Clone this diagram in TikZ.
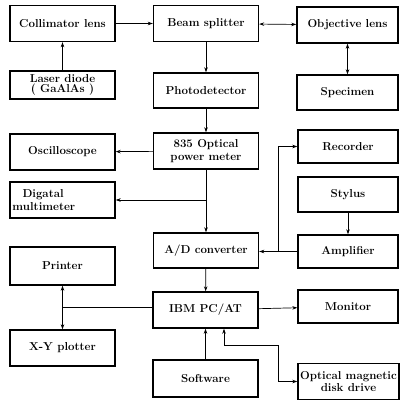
\documentclass[tikz,border=0pt]{standalone}
\usetikzlibrary{arrows.meta,calc}
\begin{document}
\begin{tikzpicture}[x=1pt,y=-1pt,
	blk/.style={draw,line width=1.4pt,minimum width=105pt,minimum height=36pt,align=center,inner sep=1pt,font=\bfseries\fontsize{11.5}{12.5}\selectfont},
	conn/.style={line width=0.7pt,-{Stealth[length=5pt,width=3.5pt]}},
	dconn/.style={line width=0.7pt,{Stealth[length=5pt,width=3.5pt]}-{Stealth[length=5pt,width=3.5pt]}}]
	\useasboundingbox (0,0) rectangle (400,401);
	
	% left column
	\node[blk] (coll) at (62.5,23.5) {Collimator lens};
	\node[blk,minimum height=28pt,font=\bfseries\fontsize{11.5}{10.5}\selectfont] (laser) at (62.5,85) {Laser diode\\( GaAlAs )};
	\node[blk] (osc) at (62.5,152) {Oscilloscope};
	\node[blk,align=left,text width=100pt] (dmm) at (62.5,200) {\hspace*{10pt}Digatal\\multimeter};
	\node[blk,minimum height=38pt] (printer) at (62.5,266) {Printer};
	\node[blk] (xy) at (62.5,348) {X-Y plotter};
	
	% middle column
	\node[blk] (beam) at (206,23.5) {Beam splitter};
	\node[blk,minimum height=35pt] (photo) at (206,90.5) {Photodetector};
	\node[blk] (pm) at (206,151) {835 Optical\\power meter};
	\node[blk,minimum height=35pt] (ad) at (206,250.5) {A/D converter};
	\node[blk] (ibm) at (205.5,310) {IBM PC/AT};
	\node[blk,minimum height=37pt] (soft) at (205.5,378.5) {Software};
	
	% right column
	\node[blk,minimum width=101pt] (obj) at (347.5,25) {Objective lens};
	\node[blk,minimum width=101pt,minimum height=35pt] (spec) at (347.5,92.5) {Specimen};
	\node[blk,minimum width=100pt,minimum height=33pt] (rec) at (348,146.5) {Recorder};
	\node[blk,minimum width=100pt,minimum height=35pt] (stylus) at (348,194.5) {Stylus};
	\node[blk,minimum width=100pt,minimum height=33pt] (amp) at (348,251.5) {Amplifier};
	\node[blk,minimum width=100pt,minimum height=33pt] (mon) at (348,306.5) {Monitor};
	\node[blk,minimum width=101pt] (disk) at (348.5,381.5) {Optical magnetic\\disk drive};
	
	\coordinate (split) at ($(ad.east)!0.5!(amp.west)$);
	\coordinate (tap) at (pm.south |- dmm.east);
	
	% optics
	\draw[conn] (coll) -- (beam);
	\draw[conn] (laser) -- (coll);
	\draw[dconn] (beam) -- (obj);
	\draw[dconn] (obj) -- (spec);
	\draw[conn] (beam) -- (photo);
	\draw[conn] (photo) -- (pm);
	
	% signal
	\draw[conn] (pm) -- (osc);
	\draw[conn] (pm) -- (ad);
	\draw[conn] (tap) -- (dmm);
	\draw[conn] (amp.west) -- (amp.west -| ad.east);
	\draw[conn] (split |- amp.west) -- (split |- rec.west) -- (rec.west);
	\draw[conn] (stylus) -- (amp);
	
	% computer
	\draw[conn] (ad) -- (ibm);
	\draw[conn] (ibm) -- (mon);
	\draw[conn] (soft) -- (ibm);
	\draw[line width=0.7pt] ([yshift=3pt]ibm.west) -- ([yshift=3pt]ibm.west -| printer.south);
	\draw[dconn] (printer) -- (xy);
	\draw[dconn] ([xshift=18.5pt]ibm.south) -- ++(0,17) -| (split |- disk.west) -- (disk.west);
\end{tikzpicture}
\end{document}
